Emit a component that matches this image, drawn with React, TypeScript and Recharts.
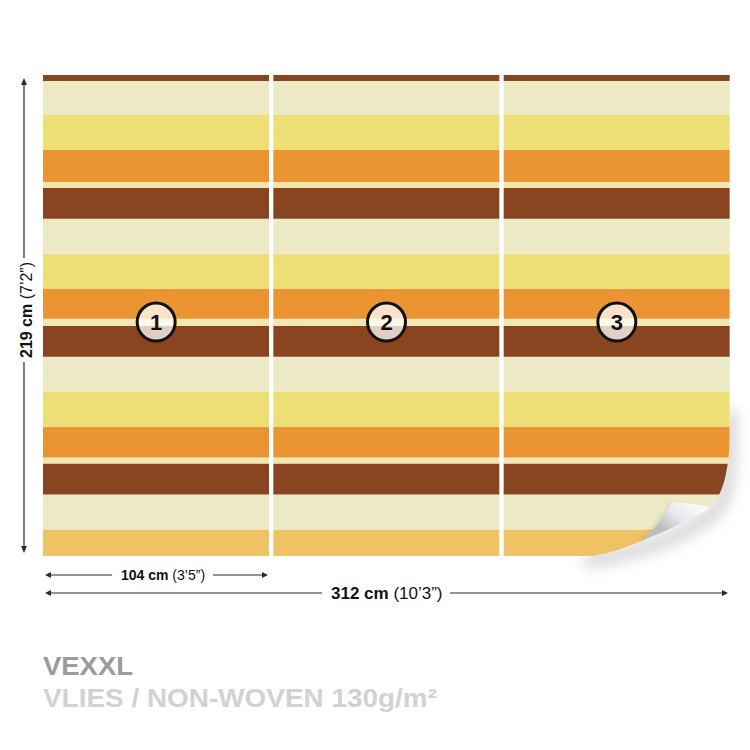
import React from "react";
import { BarChart, Bar, XAxis, YAxis, ReferenceDot } from "recharts";

// wallpaper: 3 panels of 104 cm, 219 cm high, stripes listed top to bottom (cm)
const PANELS = ["1", "2", "3"];
const STRIPE_CM = [2.7, 15.5, 15.9, 14.6, 2.7, 14.1, 15.9, 15.9, 13.7, 3.2, 14.1, 15.9, 15.9, 14.1, 2.7, 14.1, 15.9, 12.1];
const STRIPE_KIND = [
  "brown", "cream", "yellow", "orange", "thin",
  "brown", "cream", "yellow", "orange", "thin",
  "brown", "cream", "yellow", "orange", "thin",
  "brown", "cream", "gold",
];
const HEIGHT_CM = 219;
const MARKER_CM = 106.5; // height of the numbered circles

const COLORS: Record<string, string> = {
  brown: "#88451F",
  cream: "#ECEAC4",
  yellow: "#EDDE75",
  orange: "#EA9432",
  thin: "#F3E6B0",
  gold: "#EFC264",
};

const data = PANELS.map((panel) => {
  const row: Record<string, string | number> = { panel };
  STRIPE_CM.forEach((v, i) => (row[`s${i}`] = v));
  return row;
});

const FONT = "'Liberation Sans', Arial, sans-serif";
const INK = "#2a2a2a";

function HArrow({ x1, x2, y }: { x1: number; x2: number; y: number }) {
  return (
    <g>
      <path d={`M${x1} ${y} l6 -3 v6 z`} fill={INK} />
      <path d={`M${x2} ${y} l-6 -3 v6 z`} fill={INK} />
    </g>
  );
}

function Overlay() {
  const paperCut =
    "M 570 559 C 605 556, 625 548, 641 541 L 712 505 C 722 495, 728 475, 730 440 L 730 380 L 760 380 L 760 580 L 570 580 Z";
  return (
    <svg width={750} height={750} style={{ position: "absolute", left: 0, top: 0, pointerEvents: "none" }}>
      <defs>
        <filter id="blur" x="-50%" y="-50%" width="200%" height="200%">
          <feGaussianBlur stdDeviation="7" />
        </filter>
        <filter id="blurSmall" x="-50%" y="-50%" width="200%" height="200%">
          <feGaussianBlur stdDeviation="2" />
        </filter>
        <clipPath id="outside">
          <path d={paperCut} />
        </clipPath>
        <linearGradient id="flap" x1="690" y1="503" x2="668" y2="532" gradientUnits="userSpaceOnUse">
          <stop offset="0" stopColor="#f8f8fa" />
          <stop offset="0.5" stopColor="#e8e8ec" />
          <stop offset="1" stopColor="#bdbdc2" />
        </linearGradient>
      </defs>

      {/* page curl */}
      <path d={paperCut} fill="#fff" />
      <g clipPath="url(#outside)">
        <path
          d="M 729 410 C 732 470, 727 500, 714 512 C 690 532, 650 552, 585 561"
          fill="none"
          stroke="#9a9a9a"
          strokeWidth={14}
          opacity={0.4}
          filter="url(#blur)"
        />
      </g>
      <path d="M 672 502 Q 660 522 641 541" fill="none" stroke="#8a7a50" strokeWidth={2} opacity={0.3} filter="url(#blurSmall)" />
      <path d="M 672 502 Q 692 503 711 507 Q 680 526 641 541 Q 662 522 672 502 Z" fill="url(#flap)" />

      {/* dimensions */}
      <g stroke={INK} strokeWidth={1.2}>
        <line x1={24} y1={84} x2={24} y2={258} />
        <line x1={24} y1={362} x2={24} y2={547} />
        <line x1={112} y1={575} x2={47} y2={575} />
        <line x1={213} y1={575} x2={266} y2={575} />
        <line x1={322} y1={593} x2={47} y2={593} />
        <line x1={450} y1={593} x2={726} y2={593} />
      </g>
      <path d="M24 78 l-3 7 h6 z" fill={INK} />
      <path d="M24 553 l-3 -7 h6 z" fill={INK} />
      <HArrow x1={45} x2={268} y={575} />
      <HArrow x1={45} x2={728} y={593} />

      <text
        x={26}
        y={310}
        transform="rotate(-90 26 310)"
        textAnchor="middle"
        dominantBaseline="central"
        fontFamily={FONT}
        fontSize={16}
        fill="#111"
      >
        <tspan fontWeight={700}>219 cm</tspan> (7’2”)
      </text>
      <text x={121} y={580} fontFamily={FONT} fontSize={14} fill="#111">
        <tspan fontWeight={700}>104 cm</tspan> (3’5”)
      </text>
      <text x={331} y={599} fontFamily={FONT} fontSize={17} fill="#111">
        <tspan fontWeight={700}>312 cm</tspan> (10’3”)
      </text>

      <text x={43} y={675} fontFamily={FONT} fontWeight={700} fontSize={26} fill="#9b9b9b" textLength={90} lengthAdjust="spacingAndGlyphs">
        VEXXL
      </text>
      <text x={43} y={707} fontFamily={FONT} fontWeight={700} fontSize={26} fill="#d2d2d2" textLength={394} lengthAdjust="spacingAndGlyphs">
        VLIES / NON-WOVEN 130g/m²
      </text>
    </svg>
  );
}

export default function App() {
  return (
    <div style={{ position: "absolute", left: 0, top: 0, width: 750, height: 750, background: "#fff" }}>
      <BarChart
        width={750}
        height={750}
        data={data}
        margin={{ top: 75, right: 18, bottom: 194, left: 41 }}
        barCategoryGap={2}
        barGap={0}
      >
        <XAxis dataKey="panel" hide />
        <YAxis type="number" domain={[0, HEIGHT_CM]} hide />
        {STRIPE_CM.map((_, i) => i)
          .reverse()
          .map((i) => (
            <Bar key={i} dataKey={`s${i}`} stackId="wall" fill={COLORS[STRIPE_KIND[i]]} isAnimationActive={false} />
          ))}
        {PANELS.map((p) => (
          <ReferenceDot
            key={p}
            x={p}
            y={MARKER_CM}
            r={19}
            fill="#ffffff"
            fillOpacity={0.74}
            stroke="#111"
            strokeWidth={3}
            label={{ value: p, position: "center", fill: "#111", fontSize: 22, fontWeight: 700, fontFamily: FONT }}
          />
        ))}
      </BarChart>
      <Overlay />
    </div>
  );
}
